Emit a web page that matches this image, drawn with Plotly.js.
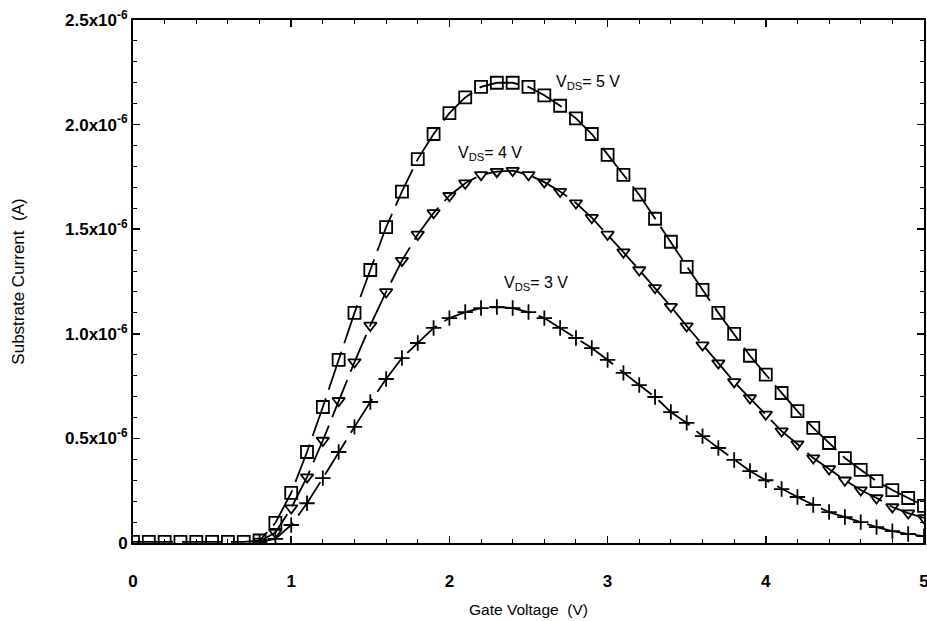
<!DOCTYPE html>
<html>
<head>
<meta charset="utf-8">
<script src="https://cdn.plot.ly/plotly-3.0.1.min.js"></script>
<style>html,body{margin:0;padding:0;background:#fff;}#chart{width:927px;height:621px;}</style>
</head>
<body>
<div id="chart"></div>
<script>
// Gate voltage (V)
const vg5 = [0,0.1,0.2,0.3,0.4,0.5,0.6,0.7,0.8,0.9,1.0,1.1,1.2,1.3,1.4,1.5,1.6,1.7,1.8,1.9,2.0,2.1,2.2,2.3,2.4,2.5,2.6,2.7,2.8,2.9,3.0,3.1,3.2,3.3,3.4,3.5,3.6,3.7,3.8,3.9,4.0,4.1,4.2,4.3,4.4,4.5,4.6,4.7,4.8,4.9,5.0];
// Substrate current (units of 1e-6 A), VDS = 5 V
const isub5 = [0.005,0.005,0.005,0.005,0.005,0.005,0.005,0.005,0.012,0.096,0.24,0.435,0.65,0.875,1.10,1.305,1.51,1.68,1.835,1.955,2.055,2.13,2.18,2.20,2.20,2.18,2.14,2.09,2.03,1.955,1.855,1.76,1.665,1.55,1.44,1.32,1.21,1.10,1.00,0.895,0.805,0.717,0.63,0.55,0.478,0.406,0.35,0.296,0.253,0.215,0.177];

const vg4 = [0.8,0.9,1.0,1.1,1.2,1.3,1.4,1.5,1.6,1.7,1.8,1.9,2.0,2.1,2.2,2.3,2.4,2.5,2.6,2.7,2.8,2.9,3.0,3.1,3.2,3.3,3.4,3.5,3.6,3.7,3.8,3.9,4.0,4.1,4.2,4.3,4.4,4.5,4.6,4.7,4.8,4.9,5.0];
// VDS = 4 V
const isub4 = [0.008,0.05,0.167,0.315,0.49,0.68,0.865,1.04,1.20,1.35,1.475,1.578,1.66,1.72,1.76,1.775,1.78,1.76,1.725,1.68,1.625,1.555,1.475,1.39,1.305,1.22,1.13,1.037,0.946,0.86,0.77,0.693,0.615,0.535,0.473,0.406,0.354,0.30,0.253,0.215,0.172,0.143,0.12];

const vg3 = [0.8,0.9,1.0,1.1,1.2,1.3,1.4,1.5,1.6,1.7,1.8,1.9,2.0,2.1,2.2,2.3,2.4,2.5,2.6,2.7,2.8,2.9,3.0,3.1,3.2,3.3,3.4,3.5,3.6,3.7,3.8,3.9,4.0,4.1,4.2,4.3,4.4,4.5,4.6,4.7,4.8,4.9,5.0];
// VDS = 3 V
const isub3 = [0.005,0.02,0.086,0.19,0.31,0.435,0.555,0.674,0.784,0.884,0.956,1.028,1.075,1.104,1.123,1.128,1.123,1.104,1.075,1.028,0.98,0.932,0.875,0.813,0.755,0.698,0.626,0.574,0.511,0.454,0.397,0.344,0.30,0.258,0.22,0.182,0.148,0.124,0.10,0.076,0.057,0.043,0.033];

const seriesNames = ['V<sub>DS</sub>= 5 V','V<sub>DS</sub>= 4 V','V<sub>DS</sub>= 3 V'];
const labelX = [2.66, 2.04, 2.33];
const labelY = [2.2, 1.86, 1.24];

const yTickVals = [0,0.5,1.0,1.5,2.0,2.5];
const yTickText = ['0','0.5x10<sup>-6</sup>','1.0x10<sup>-6</sup>','1.5x10<sup>-6</sup>','2.0x10<sup>-6</sup>','2.5x10<sup>-6</sup>'];
const xTickVals = [0,1,2,3,4,5];

const lineStyle = {color:'#000', width:1.8, dash:'40px,9px'};
const font = 'Liberation Sans';

const traces = [
  {x: vg5, y: isub5, mode:'lines+markers', line: lineStyle,
   marker:{symbol:'square-open', size:12, color:'#000', line:{width:1.8}}},
  {x: vg4, y: isub4, mode:'lines+markers', line: lineStyle,
   marker:{symbol:'triangle-down-open', size:11, color:'#000', line:{width:1.8}}},
  {x: vg3, y: isub3, mode:'lines+markers', line: lineStyle,
   marker:{symbol:'cross-thin-open', size:11, color:'#000', line:{width:1.8, color:'#000'}}}
];

const annotations = seriesNames.map((t,i)=>({
  x: labelX[i], y: labelY[i], xref:'x', yref:'y', text: t, showarrow:false,
  xanchor:'left', yanchor:'middle', font:{family:font, size:16, color:'#000'}
}));

const tickFont = {family:font, size:17, color:'#000', weight:700};

const layout = {
  width:927, height:621,
  margin:{l:133, r:3, t:20, b:78},
  paper_bgcolor:'#fff', plot_bgcolor:'#fff',
  showlegend:false,
  font:{family:font, color:'#000', size:15},
  xaxis:{
    range:[0,5], tickmode:'array', tickvals:xTickVals, ticktext:xTickVals.map(String),
    ticks:'inside', ticklen:7, tickwidth:1.5, tickcolor:'#000',
    minor:{dtick:0.2, ticks:'inside', ticklen:4, tickwidth:1, tickcolor:'#000'},
    showline:true, linecolor:'#000', linewidth:2, mirror:'ticks',
    showgrid:false, zeroline:false, ticklabeloverflow:'allow',
    ticklabelstandoff:22,
    tickfont:tickFont,
    title:{text:'Gate Voltage  (V)', font:{family:font, size:15.5, color:'#000'}, standoff:14}
  },
  yaxis:{
    range:[0,2.5], tickmode:'array', tickvals:yTickVals, ticktext:yTickText,
    ticks:'inside', ticklen:7, tickwidth:1.5, tickcolor:'#000',
    minor:{dtick:0.1, ticks:'inside', ticklen:4, tickwidth:1, tickcolor:'#000'},
    showline:true, linecolor:'#000', linewidth:2, mirror:'ticks',
    showgrid:false, zeroline:false,
    tickfont:tickFont,
    title:{text:'Substrate Current  (A)', font:{family:font, size:17, color:'#000'}, standoff:36}
  },
  annotations: annotations
};

Plotly.newPlot('chart', traces, layout, {staticPlot:true, displayModeBar:false});
</script>
</body>
</html>
